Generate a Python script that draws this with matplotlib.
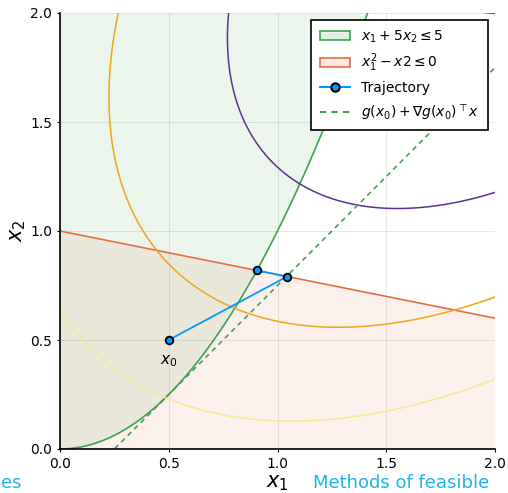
import numpy as np
import matplotlib
matplotlib.use("Agg")
from matplotlib import pyplot as plt
from matplotlib.patches import Patch
from matplotlib.lines import Line2D

# objective f(x) = 2x1^2 + 2x2^2 - 2x1x2 - 4x1 - 6x2
f_coef = [2.0, 2.0, -2.0, -4.0, -6.0]
f_levels = [-12, -9, -6, -3]
level_colors = ["#2a2a2a", "#5b3191", "#eda61c", "#f4ea8e"]

# trajectory
traj_x1 = [0.5, 1.044, 0.905]
traj_x2 = [0.5, 0.791, 0.819]

# constraint data: a*x2 + b*x1 = c  (x1 + 5x2 <= 5)
lin_c = [5.0, 1.0, 5.0]
x0 = [0.5, 0.5]

ticks = [0.0, 0.5, 1.0, 1.5, 2.0]
tick_labels = ["0.0", "0.5", "1.0", "1.5", "2.0"]

c_green = "#3da44d"
c_orange = "#e26f46"
c_blue = "#009afa"

fig = plt.figure(figsize=(5.08, 4.93), dpi=100)
ax = fig.add_axes([60/508, 44/493, 435/508, 436/493])

xs = np.linspace(0, 2, 400)
para = xs**2                      # x1^2 - x2 <= 0  boundary
line = (lin_c[2] - lin_c[1]*xs) / lin_c[0]   # x1 + 5x2 = 5
# tangent of g(x)=x1^2-x2 at x0
g0 = x0[0]**2 - x0[1]
tang = g0 + 2*x0[0]*(xs - x0[0]) + x0[1]

ax.fill_between(xs, np.minimum(para, 2), 2, color=c_green, alpha=0.1, lw=0)
ax.fill_between(xs, 0, line, color=c_orange, alpha=0.1, lw=0)
ax.plot(xs, para, color=c_green, lw=1.2)
ax.plot(xs, line, color=c_orange, lw=1.2)

# objective contours
X1, X2 = np.meshgrid(np.linspace(0, 2.2, 400), np.linspace(0, 2.2, 400))
F = f_coef[0]*X1**2 + f_coef[1]*X2**2 + f_coef[2]*X1*X2 + f_coef[3]*X1 + f_coef[4]*X2
ax.contour(X1, X2, F, levels=f_levels, colors=level_colors, linewidths=1.1)

ax.plot(xs, tang, color=c_green, lw=1.2, ls=(0, (3, 2.5)))
ax.plot(traj_x1, traj_x2, color=c_blue, lw=1.3, marker="o", ms=5.5,
        mfc=c_blue, mec="black", mew=1.3)
ax.annotate("$x_0$", (traj_x1[0], traj_x2[0]), xytext=(0, -15),
            textcoords="offset points", ha="center", va="center", fontsize=11)

ax.set_xlim(0, 2)
ax.set_ylim(0, 2)
ax.set_xticks(ticks, tick_labels)
ax.set_yticks(ticks, tick_labels)
ax.tick_params(labelsize=10, length=2, width=0.8)
ax.grid(True, color="black", alpha=0.1, lw=0.6)
for s in ["top", "right"]:
    ax.spines[s].set_visible(False)
for s in ["left", "bottom"]:
    ax.spines[s].set_linewidth(1.2)
ax.set_xlabel("$x_1$", fontsize=15, labelpad=2)
ax.set_ylabel("$x_2$", fontsize=15, labelpad=2)

handles = [
    Patch(facecolor=(0.24, 0.64, 0.30, 0.15), edgecolor=c_green, lw=1.2),
    Patch(facecolor=(0.89, 0.44, 0.27, 0.15), edgecolor=c_orange, lw=1.2),
    Line2D([], [], color=c_blue, marker="o", mfc=c_blue, mec="black", mew=1.5, ms=6),
    Line2D([], [], color=c_green, ls=(0, (3, 2.5))),
]
labels = ["$x_1 + 5x_2 \\leq 5$", "$x_1^2 - x2 \\leq 0$", "Trajectory",
          "$g(x_0) + \\nabla g(x_0)^\\top x$"]
leg = ax.legend(handles, labels, loc="upper right", fontsize=10, fancybox=False,
                framealpha=1, edgecolor="black", borderpad=0.6, handlelength=2.2,
                bbox_to_anchor=(1.0, 1.0))
leg.get_frame().set_linewidth(1.2)

fig.text(0.002, 0.003, "es", color="#1ab4f2", fontsize=13, va="bottom")
fig.text(313/508, 0.003, "Methods of feasible", color="#1ab4f2", fontsize=13, va="bottom")

fig.savefig("out.png", dpi=100)
